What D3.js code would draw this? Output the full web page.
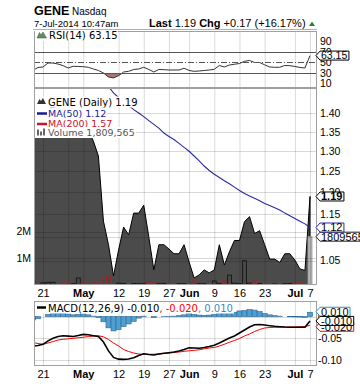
<!DOCTYPE html>
<html><head><meta charset="utf-8">
<script src="https://cdn.jsdelivr.net/npm/d3@7"></script>
<style>body{margin:0;background:#fff}svg{display:block}</style>
</head><body><svg id="c" width="360" height="384"></svg>
<script>
const dates = ["2014-04-16","2014-04-17","2014-04-21","2014-04-22","2014-04-23","2014-04-24","2014-04-25","2014-04-28","2014-04-29","2014-04-30",
"2014-05-01","2014-05-02","2014-05-05","2014-05-06","2014-05-07","2014-05-08","2014-05-09","2014-05-12","2014-05-13","2014-05-14",
"2014-05-15","2014-05-16","2014-05-19","2014-05-20","2014-05-21","2014-05-22","2014-05-23","2014-05-27","2014-05-28","2014-05-29",
"2014-05-30","2014-06-02","2014-06-03","2014-06-04","2014-06-05","2014-06-06","2014-06-09","2014-06-10","2014-06-11","2014-06-12",
"2014-06-13","2014-06-16","2014-06-17","2014-06-18","2014-06-19","2014-06-20","2014-06-23","2014-06-24","2014-06-25","2014-06-26",
"2014-06-27","2014-06-30","2014-07-01","2014-07-02","2014-07-03","2014-07-07"];
const price = [1.40,1.38,1.39,1.41,1.42,1.40,1.39,1.37,1.38,1.38,1.37,1.355,1.326,1.288,1.134,1.083,1.019,1.072,1.121,1.104,
1.152,1.152,1.170,1.100,1.031,1.083,1.083,1.074,1.064,1.064,1.083,1.047,1.015,1.021,1.031,1.025,1.031,1.083,1.041,1.068,
1.092,1.092,1.133,1.144,1.107,1.113,1.083,1.053,1.053,1.046,1.064,1.064,1.051,1.033,1.030,1.190];
const ma50 = [1.56,1.555,1.55,1.545,1.54,1.535,1.53,1.525,1.52,1.515,1.51,1.505,1.50,1.493,1.485,1.475,1.457,1.444,1.4325,1.421,
1.41,1.401,1.391,1.38,1.37,1.36,1.347,1.338,1.33,1.32,1.31,1.30,1.288,1.276,1.263,1.252,1.243,1.235,1.227,1.22,
1.212,1.204,1.197,1.191,1.186,1.18,1.174,1.169,1.164,1.159,1.152,1.146,1.14,1.134,1.128,1.12];
const volume = [150000,120000,80000,100000,100000,50000,100000,80000,50000,260000,100000,60000,100000,120000,250000,340000,210000,70000,60000,50000,
60000,50000,50000,100000,80000,50000,60000,70000,60000,50000,50000,60000,190000,50000,50000,50000,150000,60000,190000,370000,
70000,50000,910000,70000,210000,60000,50000,50000,40000,50000,50000,60000,120000,100000,60000,1809565];
const rsi = [34.8,40.5,41.4,49,49,47,44,39.5,42.8,42.4,42,40.9,37.6,34.8,30,22.4,20.5,24.9,31.9,33.2,
36.7,37.6,40.9,36.7,31.9,36.7,36.3,35.7,35.7,35.7,39,34.8,33.2,33.8,34.8,35.7,37,44.3,41.4,45.2,
46.6,48.1,52.3,53.8,50,50,45.6,41.4,40.9,40.9,44.3,43.9,42.4,40.5,39.5,63.15];
const macd = [-0.068,-0.0666,-0.064,-0.056,-0.050,-0.046,-0.044,-0.045,-0.046,-0.0436,-0.041,-0.042,-0.044,-0.046,-0.0585,-0.079,-0.094,-0.098,-0.0985,-0.0977,
-0.0947,-0.0896,-0.0855,-0.0873,-0.0885,-0.0862,-0.0846,-0.0832,-0.0816,-0.0793,-0.0758,-0.0719,-0.0724,-0.073,-0.0712,-0.0689,-0.0661,-0.0608,-0.0551,-0.0493,
-0.0447,-0.0378,-0.0309,-0.024,-0.0189,-0.0182,-0.0194,-0.021,-0.0224,-0.0233,-0.024,-0.0244,-0.0247,-0.0247,-0.0247,-0.010];
const signal = [-0.0597,-0.062,-0.0638,-0.0608,-0.0574,-0.0539,-0.0523,-0.0512,-0.05,-0.0488,-0.0475,-0.0461,-0.0447,-0.0442,-0.0465,-0.0528,-0.0608,-0.0677,-0.0758,-0.0804,
-0.0839,-0.0862,-0.0869,-0.0869,-0.0866,-0.0862,-0.085,-0.0839,-0.0827,-0.0816,-0.08,-0.0788,-0.0776,-0.0765,-0.0742,-0.0724,-0.0712,-0.0677,-0.0638,-0.0592,
-0.0551,-0.0505,-0.0447,-0.0401,-0.0343,-0.0297,-0.0263,-0.0251,-0.0247,-0.0244,-0.0242,-0.024,-0.024,-0.0235,-0.023,-0.020];
const hist = [-0.008,-0.005,0,0.005,0.007,0.008,0.008,0.006,0.004,0.005,0.006,0.004,0.001,-0.002,-0.012,-0.026,-0.033,-0.030,-0.023,-0.017,
-0.011,-0.0035,0.001,0,-0.002,0,0.0005,0.0007,0.001,0.002,0.004,0.007,0.005,0.0035,0.003,0.0035,0.005,0.007,0.009,0.010,
0.010,0.013,0.014,0.016,0.015,0.0115,0.007,0.004,0.002,0.001,0,-0.0004,-0.0007,-0.001,-0.0017,0.010];
const tickDates = ["2014-04-21","2014-04-28","2014-05-01","2014-05-12","2014-05-19","2014-05-27","2014-06-02","2014-06-09","2014-06-16","2014-06-23","2014-07-01","2014-07-07"];
const tickLabels = ["21","","May","12","19","27","Jun","9","16","23","Jul","7"];
const monthLabels = ["May","Jun","Jul"];
const priceTicks = [1.05,1.10,1.15,1.20,1.25,1.30,1.35,1.40];
const volTicks = [1000000,2000000];
const volTickLabels = ["1M","2M"];
const rsiTicks = [10,30,50,70,90];
const macdTicks = [0,-0.05,-0.10];

const svg = d3.select("#c");
const X0 = 34, X1 = 317;
const R = {top:31, bot:88}, P = {top:88, bot:285}, M = {top:301, bot:366};
const x = d3.scaleLinear().domain([2,55]).range([43,310]);
const yP = d3.scaleLog().domain([1.001,1.471]).range([P.bot,P.top]);
const yV = d3.scaleLinear().domain([0,7.38e6]).range([P.bot,P.top]);
const yR = d3.scaleLinear().domain([1.4,110]).range([R.bot,R.top]);
const yM = d3.scaleLinear().domain([-0.1138,0.0359]).range([M.bot,M.top]);
const AX = "'Liberation Sans', Arial, sans-serif";
const LG = "'DejaVu Sans', Verdana, sans-serif";
const GRID = "rgba(0,0,0,0.15)";
const idx = dates.map((d,i)=>i);
const tickIdx = tickDates.map(d=>dates.indexOf(d));

const defs = svg.append("defs");
[["cR",R],["cP",P],["cM",M]].forEach(([id,p])=>{
  defs.append("clipPath").attr("id",id).append("rect").attr("x",X0).attr("y",p.top).attr("width",X1-X0).attr("height",p.bot-p.top);
});

// Header
svg.append("text").attr("x",34).attr("y",15).style("font","bold 12.5px "+AX).text("GENE");
svg.append("text").attr("x",72).attr("y",15).style("font","10px "+AX).text("Nasdaq");
svg.append("text").attr("x",34).attr("y",26.5).style("font","9.5px "+AX).text("7-Jul-2014 10:47am");
const h2 = svg.append("text").attr("x",149).attr("y",26.5).style("font","11px "+AX);
h2.append("tspan").style("font-weight","bold").text("Last");
h2.append("tspan").text(" 1.19  ");
h2.append("tspan").style("font-weight","bold").text("Chg");
h2.append("tspan").text(" +0.17 (+16.17%)");
svg.append("path").attr("d","M309,26 L312,21.5 L315,26 Z").attr("fill","#2e7d32");
svg.append("line").attr("x1",33).attr("x2",317).attr("y1",29.5).attr("y2",29.5).attr("stroke","#b0b0b0");

function vgrid(p){
  svg.append("g").selectAll("line").data(tickIdx).join("line")
    .attr("x1",d=>x(d)+0.5).attr("x2",d=>x(d)+0.5).attr("y1",p.top).attr("y2",p.bot).attr("stroke",GRID);
}
function border(p){
  svg.append("rect").attr("x",X0+0.5).attr("y",p.top+0.5).attr("width",X1-X0-1).attr("height",p.bot-p.top-1)
    .attr("fill","none").attr("stroke","#a0a0a0");
}

// ---------- RSI panel ----------
vgrid(R);
const rsiClip = svg.append("g").attr("clip-path","url(#cR)");
rsiClip.append("path").datum(idx).attr("fill","#a8786e")
  .attr("d",d3.area().x(i=>x(i)).y0(yR(30)).y1(i=>yR(Math.min(rsi[i],30))));
[70,30].forEach(v=>svg.append("line").attr("x1",X0).attr("x2",X1).attr("y1",Math.round(yR(v))+0.5).attr("y2",Math.round(yR(v))+0.5).attr("stroke","#555"));
svg.append("line").attr("x1",X0).attr("x2",X1).attr("y1",Math.round(yR(50))+0.5).attr("y2",Math.round(yR(50))+0.5)
  .attr("stroke","#555").attr("stroke-dasharray","6,2,1,2");
rsiClip.append("path").datum(idx).attr("fill","none").attr("stroke","#333").attr("stroke-width",1)
  .attr("d",d3.line().x(i=>x(i)).y(i=>yR(rsi[i])));
border(R);
svg.append("g").selectAll("text").data(rsiTicks).join("text")
  .attr("x",320).attr("y",d=>yR(d)).attr("dy","0.35em").style("font","10.5px "+AX).text(d=>d);

// ---------- Price panel ----------
const pg = svg.append("g").attr("clip-path","url(#cP)");
pg.append("path").datum(idx).attr("fill","#4b4b4b").attr("stroke","#000").attr("stroke-width",1)
  .attr("d",d3.area().x(i=>x(i)).y0(P.bot).y1(i=>yP(price[i])));
pg.append("g").selectAll("rect").data(idx).join("rect")
  .attr("x",i=>x(i)-2).attr("width",4)
  .attr("y",i=>yV(volume[i])).attr("height",i=>P.bot-yV(volume[i]))
  .attr("fill",i=>i===idx.length-1?"#b4b4b4":"#474747")
  .attr("stroke",i=>i===idx.length-1?"#999":(i>0&&price[i]<price[i-1]?"#9c2a2a":"#111"))
  .attr("stroke-width",0.8);
vgrid(P);
svg.append("g").selectAll("line").data(priceTicks).join("line")
  .attr("x1",X0).attr("x2",X1).attr("y1",d=>Math.round(yP(d))+0.5).attr("y2",d=>Math.round(yP(d))+0.5).attr("stroke",GRID);
svg.append("g").selectAll("line").data(volTicks).join("line")
  .attr("x1",X0).attr("x2",X1).attr("y1",d=>Math.round(yV(d))+0.5).attr("y2",d=>Math.round(yV(d))+0.5).attr("stroke",GRID);
pg.append("path").datum(idx).attr("fill","none").attr("stroke","#2a2aa6").attr("stroke-width",1.1)
  .attr("d",d3.line().x(i=>x(i)).y(i=>yP(ma50[i])));
border(P);
svg.append("g").selectAll("text").data(priceTicks).join("text")
  .attr("x",320).attr("y",d=>yP(d)).attr("dy","0.35em").style("font","10.5px "+AX).text(d=>d.toFixed(2));
svg.append("g").selectAll("text").data(volTicks).join("text")
  .attr("x",31).attr("y",d=>yV(d)).attr("dy","0.35em").attr("text-anchor","end").style("font","10.5px "+AX)
  .text((d,i)=>volTickLabels[i]);

// legend rows with white backgrounds
function legendRow(y, parts, size){
  const g = svg.append("g");
  const t = g.append("text").attr("x",48).attr("y",y).style("font",size+"px "+LG);
  parts.forEach(p=>t.append("tspan").attr("fill",p[1]).text(p[0]));
  const bb = t.node().getBBox();
  g.insert("rect","text").attr("x",35).attr("y",bb.y).attr("width",bb.x+bb.width-35+1).attr("height",bb.height).attr("fill","#fff");
  return g;
}
const r1 = legendRow(105.5,[["GENE (Daily) 1.19","#000"]],10);
r1.append("path").attr("d","M37,104 L39.5,99 L41,101 L43,98 L46,104 Z").attr("fill","#333");
const r2 = legendRow(116.5,[["MA(50) 1.12","#1a1a9a"]],9.5);
r2.append("line").attr("x1",37).attr("x2",47).attr("y1",113.5).attr("y2",113.5).attr("stroke","#1a1a9a").attr("stroke-width",2.5);
const r3 = legendRow(127,[["MA(200) 1.57","#cc1133"]],9.5);
r3.append("line").attr("x1",37).attr("x2",47).attr("y1",124).attr("y2",124).attr("stroke","#cc1133").attr("stroke-width",2.5);
const r4 = legendRow(136,[["Volume 1,809,565","#555"]],9.5);
[[37,129.5,2,6],[40,131.5,2,4],[43,128.5,2,7]].forEach(b=>r4.append("rect").attr("x",b[0]).attr("y",b[1]).attr("width",b[2]).attr("height",b[3]).attr("fill","#666"));

// RSI legend
const rl = legendRow(39,[["RSI(14) 63.15","#000"]],10);
rl.select("text").attr("x",49);
rl.append("path").attr("d","M37,38 L39.5,32.5 L41,35 L43,32 L46.5,38 Z").attr("fill","#5f8f5f").attr("stroke","#3a5f3a").attr("stroke-width",0.5);

// date labels
function dateRow(y){
  svg.append("g").selectAll("text").data(tickIdx).join("text")
    .attr("x",d=>x(d)+0.5).attr("y",y).attr("text-anchor","middle")
    .style("font",(d,i)=>(monthLabels.includes(tickLabels[i])?"bold ":"")+"11px "+AX)
    .text((d,i)=>tickLabels[i]);
}
dateRow(297);
dateRow(378);

// ---------- MACD panel ----------
vgrid(M);
svg.append("g").selectAll("line").data(macdTicks).join("line")
  .attr("x1",X0).attr("x2",X1).attr("y1",d=>Math.round(yM(d))+0.5).attr("y2",d=>Math.round(yM(d))+0.5).attr("stroke",GRID);
const mg = svg.append("g").attr("clip-path","url(#cM)");
mg.append("g").selectAll("rect").data(idx).join("rect")
  .attr("x",i=>x(i)-2.52).attr("width",5.04)
  .attr("y",i=>Math.min(yM(hist[i]),yM(0))).attr("height",i=>Math.abs(yM(hist[i])-yM(0)))
  .attr("fill","#4f9fd2").attr("stroke","#2a6690").attr("stroke-width",0.6);
mg.append("path").datum(idx).attr("fill","none").attr("stroke","#ff0000").attr("stroke-width",1)
  .attr("d",d3.line().x(i=>x(i)).y(i=>yM(signal[i])));
mg.append("path").datum(idx).attr("fill","none").attr("stroke","#000").attr("stroke-width",1.6)
  .attr("d",d3.line().x(i=>x(i)).y(i=>yM(macd[i])));
border(M);
svg.append("g").selectAll("text").data(macdTicks).join("text")
  .attr("x",318).attr("y",d=>yM(d)).attr("dy","0.35em").style("font","10.5px "+AX).text(d=>d.toFixed(2));
const ml = legendRow(311.5,[["MACD(12,26,9) -0.010","#000"],[", -0.020","#ff0000"],[", 0.010","#3a8cc0"]],10);
ml.append("line").attr("x1",37).attr("x2",46).attr("y1",307.5).attr("y2",307.5).attr("stroke","#000").attr("stroke-width",2.5);

// ---------- value tags ----------
function tag(yv, txt, color, bold, size){
  const g = svg.append("g");
  const t = g.append("text").attr("x",321).attr("y",yv).attr("dy","0.36em")
    .style("font",(bold?"bold ":"")+(size||10.5)+"px "+AX).text(txt);
  const bb = t.node().getBBox();
  const h = 9, xr = bb.x+bb.width+1.5;
  g.insert("path","text").attr("d",`M316,${yv} L320,${yv-h/2} L${xr},${yv-h/2} L${xr},${yv+h/2} L320,${yv+h/2} Z`)
    .attr("fill","#fff").attr("stroke",color).attr("stroke-width",1);
}
tag(yR(rsi[rsi.length-1]),"63.15","#000",false);
tag(yV(volume[volume.length-1]),String(volume[volume.length-1]),"#222",false,11);
tag(yP(ma50[ma50.length-1]),"1.12","#2a2aa6",false,11);
tag(yP(price[price.length-1]),"1.19","#000",true,11);
tag(yM(signal[signal.length-1])+1.5,"-0.020","#ff0000",false,11);
tag(yM(hist[hist.length-1])-0.5,"0.010","#3a8cc0",false,11);
tag(yM(macd[macd.length-1]),"-0.010","#000",false,11);
</script></body></html>
